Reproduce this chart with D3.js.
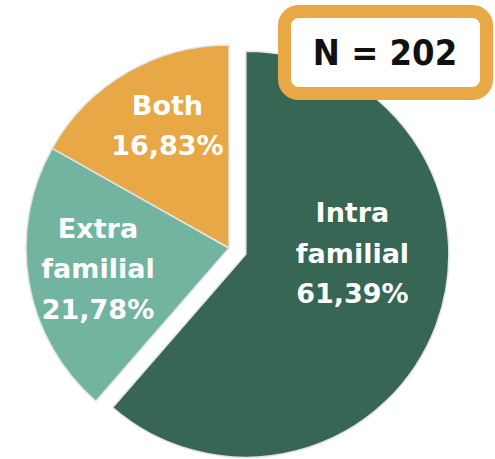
<!DOCTYPE html>
<html>
<head>
<meta charset="utf-8">
<script src="https://cdn.jsdelivr.net/npm/d3@7"></script>
<style>
  html, body { margin: 0; padding: 0; background: #fff; }
</style>
</head>
<body>
<div id="chart"></div>
<script>
// Data
//////////////////////////////////////////////////////////////////////
var categories = ["Intra familial", "Extra familial", "Both"];
var shares = [61.39, 21.78, 16.83];
var labelLines = [["Intra", "familial"], ["Extra", "familial"], ["Both"]];
var sampleSize = 202;

// Variables
//////////////////////////////////////////////////////////////////////
var width = 495, height = 459;
var cx = 229, cy = 248;
var radius = 203;
var explode = 18;
var colors = ["#376654", "#73b4a0", "#e8a845"];
// nudges for label placement (Excel moved the big one)
var labelNudge = [[-17, -48], [-1, -2], [5, -9]];

var svg = d3.select("#chart").append("svg")
  .attr("width", width)
  .attr("height", height);

var pie = d3.pie().sort(null).value(d => d);
var arcs = pie(shares);

var arc = d3.arc().innerRadius(0).outerRadius(radius);
var labelArc = d3.arc().innerRadius(0).outerRadius(radius * 1.3);

var fmt = v => d3.format(".2f")(v).replace(".", ",") + "%";

var slice = svg.append("g")
  .attr("transform", `translate(${cx},${cy})`)
  .selectAll("g")
  .data(arcs)
  .join("g")
  .attr("transform", (d, i) => {
    if (i !== 0) return null;
    var a = (d.startAngle + d.endAngle) / 2;
    return `translate(${Math.sin(a) * explode},${-Math.cos(a) * explode})`;
  });

slice.append("path")
  .attr("d", arc)
  .attr("fill", (d, i) => colors[i])
  .attr("stroke", "#e4e4e4")
  .attr("stroke-width", 1.5);

slice.append("text")
  .attr("font-family", "DejaVu Sans, sans-serif")
  .attr("font-weight", "bold")
  .attr("font-size", 27)
  .attr("fill", "#fff")
  .attr("text-anchor", "middle")
  .attr("transform", (d, i) => {
    var c = labelArc.centroid(d);
    return `translate(${c[0] + labelNudge[i][0]},${c[1] + labelNudge[i][1]})`;
  })
  .each(function (d, i) {
    var lines = labelLines[i].concat([fmt(shares[i])]);
    var lh = 40.5;
    var y0 = -(lines.length - 1) * lh / 2 + 10;
    d3.select(this).selectAll("tspan")
      .data(lines)
      .join("tspan")
      .attr("x", 0)
      .attr("y", (t, j) => y0 + j * lh)
      .text(t => t);
  });

// N box
//////////////////////////////////////////////////////////////////////
var box = svg.append("g");
box.append("rect")
  .attr("x", 284.5).attr("y", 11.5)
  .attr("width", 202).attr("height", 82)
  .attr("rx", 14).attr("ry", 14)
  .attr("fill", "#fff")
  .attr("stroke", "#e8a845")
  .attr("stroke-width", 13);
box.append("text")
  .attr("x", 385).attr("y", 65)
  .attr("text-anchor", "middle")
  .attr("font-family", "DejaVu Sans Condensed, DejaVu Sans, sans-serif")
  .attr("font-weight", "bold")
  .attr("font-size", 36)
  .attr("fill", "#111")
  .text("N = " + sampleSize);
</script>
</body>
</html>
